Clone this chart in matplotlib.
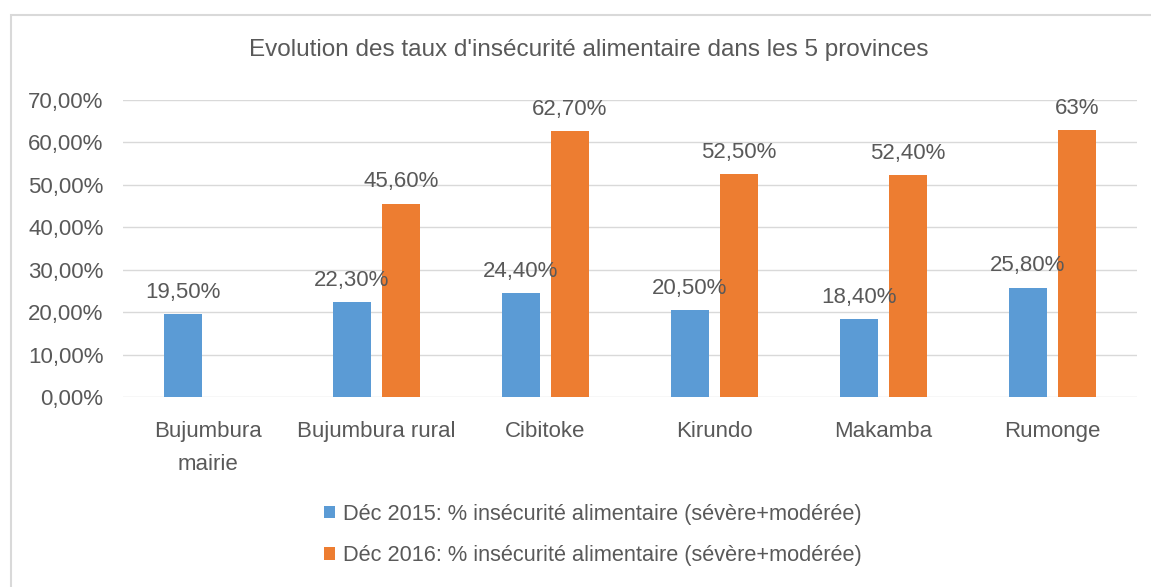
"""Taux d'insécurité alimentaire par province, Déc 2015 vs Déc 2016."""

import numpy as np
import matplotlib

matplotlib.use("Agg")
import matplotlib.pyplot as plt
from matplotlib.patches import Rectangle

provinces = ["Bujumbura\nmairie", "Bujumbura rural", "Cibitoke", "Kirundo", "Makamba", "Rumonge"]
dec_2015 = [19.5, 22.3, 24.4, 20.5, 18.4, 25.8]
dec_2016 = [np.nan, 45.6, 62.7, 52.5, 52.4, 63.0]
labels_2015 = ["19,50%", "22,30%", "24,40%", "20,50%", "18,40%", "25,80%"]
labels_2016 = ["", "45,60%", "62,70%", "52,50%", "52,40%", "63%"]
y_ticks = [0, 10, 20, 30, 40, 50, 60, 70]
series_names = [
    "Déc 2015: % insécurité alimentaire (sévère+modérée)",
    "Déc 2016: % insécurité alimentaire (sévère+modérée)",
]

BLUE = "#5B9BD5"
ORANGE = "#ED7D31"
TEXT = "#595959"
GRID = "#D9D9D9"

plt.rcParams["font.family"] = ["Liberation Sans", "DejaVu Sans"]

W, H = 1151, 587
fig = plt.figure(figsize=(W / 100, H / 100), dpi=100)
fig.patch.set_facecolor("white")

# chart frame (cut off at right and bottom in the reference)
fig.patches.append(Rectangle((11 / W, -0.1), 1.2, 1 - 15 / H + 0.1,
                             transform=fig.transFigure, fill=False,
                             edgecolor=GRID, linewidth=1.5))

ax = fig.add_axes([123 / W, (H - 397) / H, 1014 / W, 297 / H])
x = np.arange(len(provinces))
width = 0.22
offset = 0.145

b1 = ax.bar(x - offset, dec_2015, width, color=BLUE, zorder=2, label=series_names[0])
b2 = ax.bar(x + offset, dec_2016, width, color=ORANGE, zorder=2, label=series_names[1])

for bars, labels in ((b1, labels_2015), (b2, labels_2016)):
    for rect, text in zip(bars, labels):
        h = rect.get_height()
        if not text or np.isnan(h):
            continue
        ax.annotate(text, (rect.get_x() + rect.get_width() / 2, h),
                    xytext=(0, 8), textcoords="offset points",
                    ha="center", va="bottom", fontsize=16, color=TEXT, zorder=3)

ax.set_xlim(-0.5, len(provinces) - 0.5)
ax.set_ylim(0, 70)
ax.set_yticks(y_ticks)
ax.set_yticklabels([f"{v},00%" for v in y_ticks])
ax.set_xticks(x)
ax.set_xticklabels(provinces, linespacing=1.75)
ax.tick_params(axis="both", length=0, labelsize=16, labelcolor=TEXT)
ax.tick_params(axis="y", pad=14)
ax.tick_params(axis="x", pad=17)
ax.grid(axis="y", color=GRID, linewidth=1, zorder=0)
for spine in ax.spines.values():
    spine.set_visible(False)

fig.text(0.5 * (247 + 930) / W, 1 - 50 / H,
         "Evolution des taux d'insécurité alimentaire dans les 5 provinces",
         ha="center", va="center", fontsize=17.5, color=TEXT)

fig.legend(handles=[b1, b2], labels=series_names, loc="center",
           bbox_to_anchor=(593 / W, 1 - 535 / H), ncol=1, frameon=False,
           fontsize=15.7, labelcolor=TEXT, handlelength=0.5, handleheight=0.5,
           handletextpad=0.4, labelspacing=0.95)

fig.savefig("out.png", dpi=100)
